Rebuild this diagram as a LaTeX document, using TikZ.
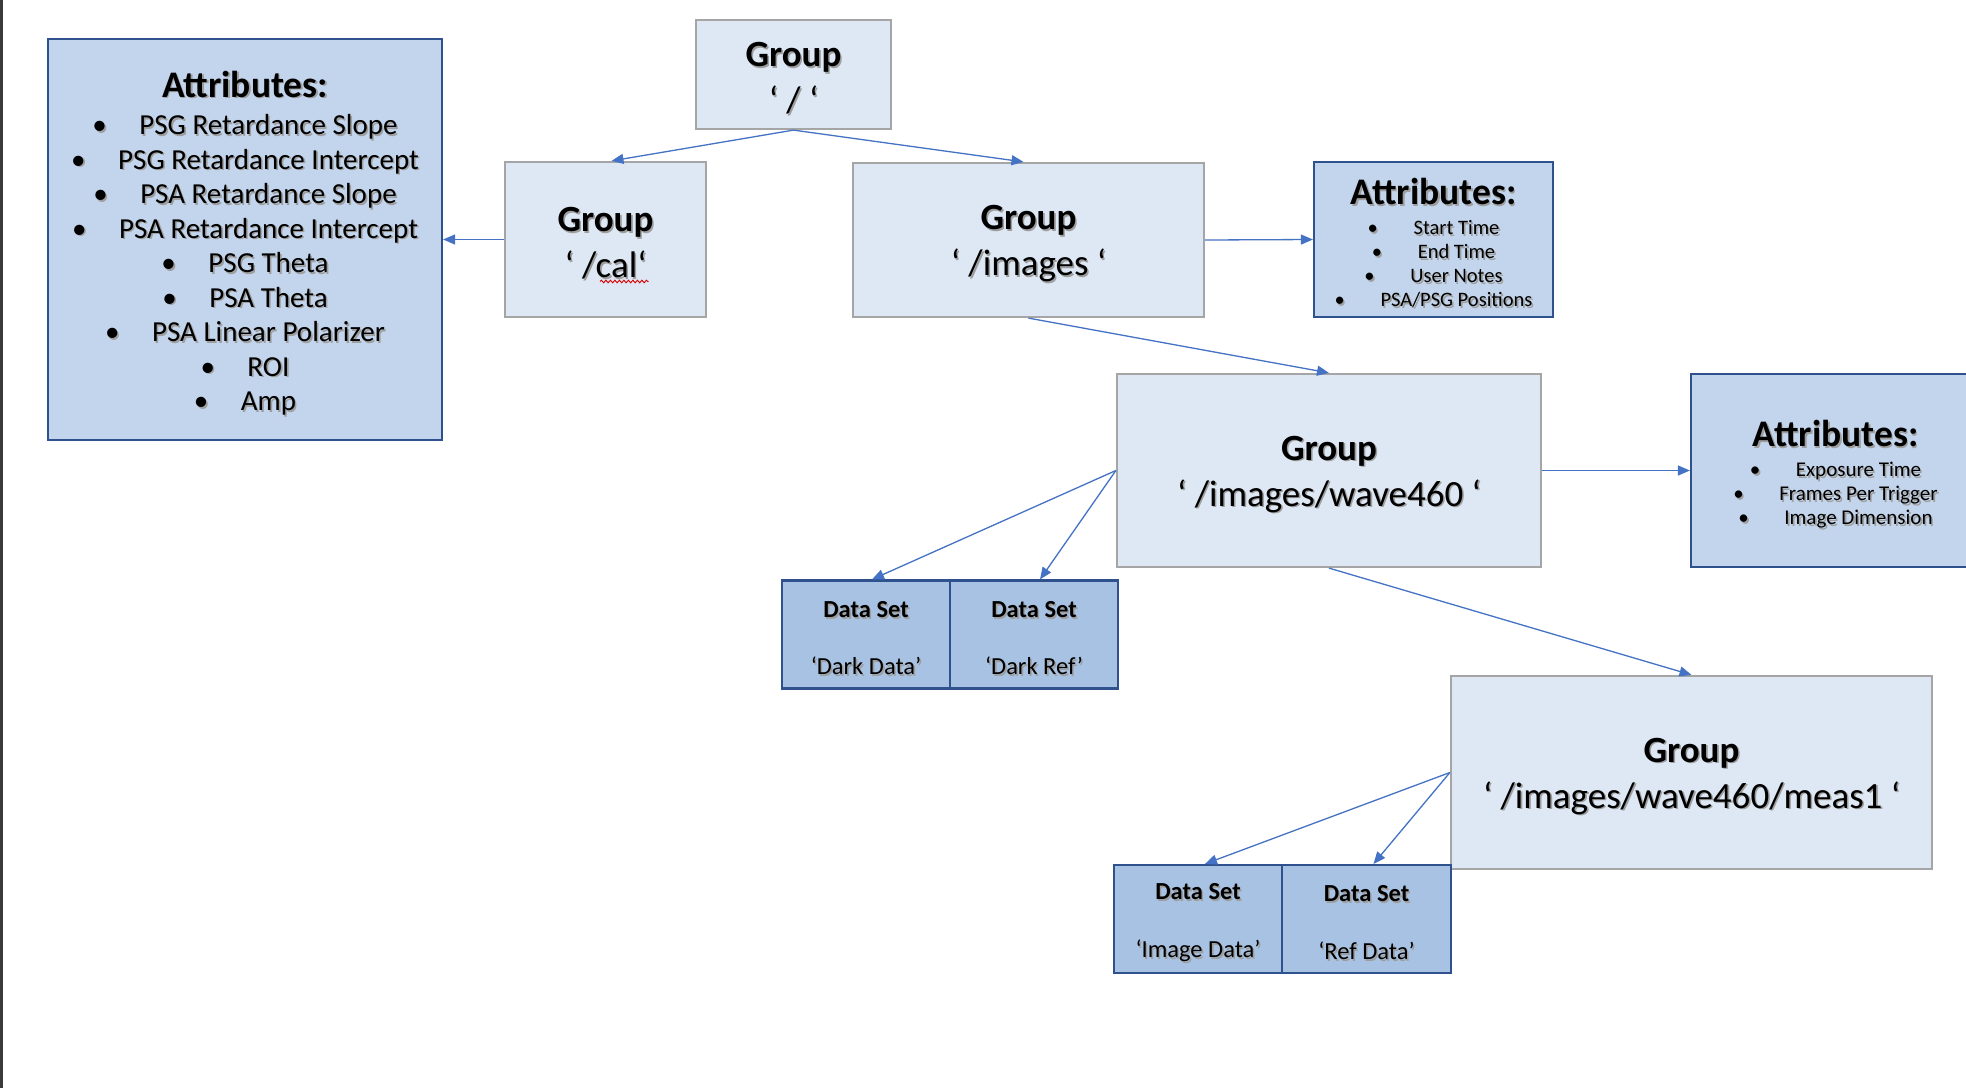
\documentclass[tikz,border=0pt]{standalone}
\usepackage{fontspec}
\setmainfont{Carlito}
\usetikzlibrary{arrows.meta,calc,decorations.pathmorphing}

\definecolor{grpfill}{HTML}{DEE8F4}
\definecolor{grpline}{HTML}{A5A5A5}
\definecolor{attfill}{HTML}{C3D5EC}
\definecolor{dsfill}{HTML}{A8C2E3}
\definecolor{darkline}{HTML}{2F528F}
\definecolor{arrowblue}{HTML}{4472C4}
\definecolor{edgegray}{HTML}{3A3A3A}

% text with a soft offset shadow
\newcommand\shd[1]{{\leavevmode\rlap{\hspace{1.6pt}\raisebox{-1.6pt}{\textcolor{black!38}{#1}}}#1}}
% centred bullet line: bullet, tab gap, text
\newcommand\bitem[2]{\shd{\makebox[#1][l]{•}#2}}
% extra head room on a first line, so the text block sits a little lower
\newcommand\lift[1]{\vrule width 0pt height \dimexpr\fontcharht\font`#1+9pt\relax}

\begin{document}
\begin{tikzpicture}[x=1pt,y=-1pt,
  grp/.style={draw=grpline, fill=grpfill, line width=2.2pt, align=center,
    inner sep=0pt, font=\fontsize{37}{46}\selectfont},
  attr/.style={draw=darkline, fill=attfill, line width=2.2pt, align=center, inner sep=0pt},
  dset/.style={draw=darkline, fill=dsfill, line width=2.2pt, align=center,
    inner sep=0pt, minimum height=108pt, font=\fontsize{24.5}{29}\selectfont},
  link/.style={draw=arrowblue, line width=1.3pt, -{Triangle[length=12pt,width=10pt]}}]

\clip (0,0) rectangle (1966,1088);
\fill[white] (0,0) rectangle (1966,1088);
\fill[edgegray] (0,0) rectangle (2.5,1088);

% groups
\node[grp, minimum width=195pt, minimum height=109pt] (root) at (793.5,74.5)
  {{\bfseries\lift{G}\shd{Group}}\\\shd{‘ / ‘}};
\node[grp, minimum width=201pt, minimum height=155pt] (cal) at (605.5,239.5)
  {{\bfseries\lift{G}\shd{Group}}\\\shd{‘ /cal‘}};
\node[grp, minimum width=351pt, minimum height=154pt] (images) at (1028.5,240)
  {{\bfseries\lift{G}\shd{Group}}\\\shd{‘ /images ‘}};
\node[grp, minimum width=424pt, minimum height=193pt] (wave) at (1329,470.5)
  {{\bfseries\lift{G}\shd{Group}}\\\shd{‘ /images/wave460 ‘}};
\node[grp, minimum width=481pt, minimum height=193pt] (meas) at (1691.5,772.5)
  {{\bfseries\lift{G}\shd{Group}}\\\shd{‘ /images/wave460/meas1 ‘}};

% attribute lists
\node[attr, minimum width=394pt, minimum height=401pt,
  font=\fontsize{29}{34.5}\selectfont] (attrL) at (245,239.5)
  {{\fontsize{37.5}{44}\selectfont\bfseries\lift{b}\shd{Attributes:}}\\[3pt]
   \bitem{47pt}{PSG Retardance Slope}\\
   \bitem{47pt}{PSG Retardance Intercept}\\
   \bitem{47pt}{PSA Retardance Slope}\\
   \bitem{47pt}{PSA Retardance Intercept}\\
   \bitem{47pt}{PSG Theta}\\
   \bitem{47pt}{PSA Theta}\\
   \bitem{47pt}{PSA Linear Polarizer}\\
   \bitem{47pt}{ROI}\\
   \bitem{47pt}{Amp}};
\node[attr, minimum width=239pt, minimum height=155pt,
  font=\fontsize{20.5}{24}\selectfont] (attr2) at (1433.5,239.5)
  {{\fontsize{37.5}{44}\selectfont\bfseries\lift{b}\shd{Attributes:}}\\[6pt]
   \bitem{46pt}{Start Time}\\
   \bitem{46pt}{End Time}\\
   \bitem{46pt}{User Notes}\\
   \bitem{46pt}{PSA/PSG Positions}};
\node[attr, minimum width=289pt, minimum height=193pt,
  font=\fontsize{21}{24}\selectfont] (attr3) at (1835.5,470.5)
  {{\fontsize{37.5}{44}\selectfont\bfseries\lift{b}\shd{Attributes:}}\\[6pt]
   \bitem{46pt}{Exposure Time}\\
   \bitem{46pt}{Frames Per Trigger}\\
   \bitem{46pt}{Image Dimension}};

% data sets
\node[dset, minimum width=168pt] (ds1a) at (866,634.5)
  {{\bfseries\lift{D}\shd{Data Set}}\\[28pt]\shd{‘Dark Data’}};
\node[dset, minimum width=168pt] (ds1b) at (1034,634.5)
  {{\bfseries\lift{D}\shd{Data Set}}\\[28pt]\shd{‘Dark Ref’}};
\node[dset, minimum width=168pt] (ds2a) at (1198,919)
  {{\bfseries\lift{D}\shd{Data Set}}\\[29pt]\shd{‘Image Data’}};
\node[dset, minimum width=169pt] (ds2b) at (1366.5,919)
  {{\bfseries\lift{D}\shd{Data Set}}\\[29pt]\shd{‘Ref Data’}};

% spell-check mark under "cal"
\draw[red!85!black, line width=0.9pt, decorate,
  decoration={snake, amplitude=1.3pt, segment length=4.5pt}]
  ($(cal.center)+(-5.5,42)$) -- ($(cal.center)+(43,42)$);

% connectors
\draw[link] (root.south) -- ([xshift=6pt]cal.north);
\draw[link] (root.south) -- ([xshift=-5pt]images.north);
\draw[link] (cal.west) -- (attrL.east);
\draw[link] (images.east) -- (attr2.west);
\draw[link] (images.south) -- (wave.north);
\draw[link] (wave.east) -- (attr3.west);
\draw[link] (wave.west) -- ([xshift=6pt]ds1a.north);
\draw[link] (wave.west) -- ([xshift=6pt]ds1b.north);
\draw[link] (wave.south) -- (meas.north);
\draw[link] (meas.west) -- ([xshift=7pt]ds2a.north);
\draw[link] (meas.west) -- ([xshift=7pt]ds2b.north);
\end{tikzpicture}
\end{document}
